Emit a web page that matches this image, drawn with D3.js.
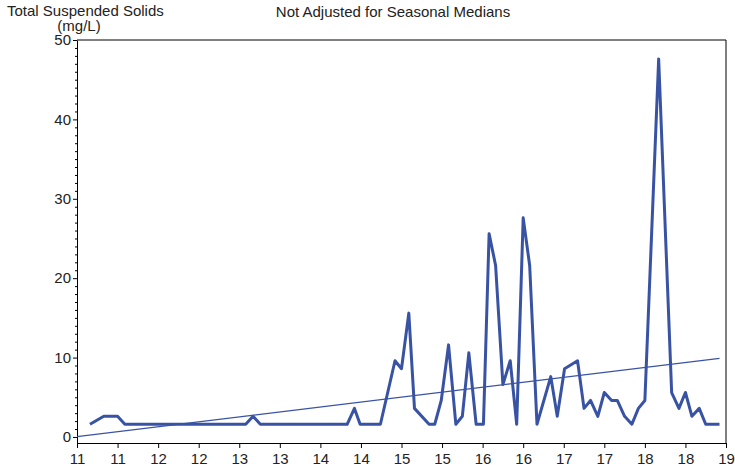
<!DOCTYPE html>
<html>
<head>
<meta charset="utf-8">
<script src="https://cdn.jsdelivr.net/npm/d3@7"></script>
<style>
  html, body { margin: 0; padding: 0; background: #fff; }
  svg { display: block; font-family: "Liberation Sans", Arial, sans-serif; }
</style>
</head>
<body>
<div id="vis"></div>
<script>
// ── DATA ───────────────────────────────────────────────────────────────────────
// sample dates as decimal years, TSS in mg/L
const sampleYears = [
  2011.16, 2011.33, 2011.50, 2011.59, 2013.08, 2013.17, 2013.26, 2014.33,
  2014.42, 2014.49, 2014.74, 2014.92, 2015.00, 2015.09, 2015.16, 2015.34,
  2015.41, 2015.49, 2015.58, 2015.67, 2015.75, 2015.83, 2015.92, 2016.01,
  2016.08, 2016.16, 2016.25, 2016.34, 2016.42, 2016.50, 2016.58, 2016.67,
  2016.84, 2016.92, 2017.01, 2017.17, 2017.25, 2017.33, 2017.42, 2017.50,
  2017.59, 2017.66, 2017.75, 2017.84, 2017.92, 2018.00, 2018.17, 2018.33,
  2018.42, 2018.50, 2018.58, 2018.67, 2018.75, 2018.92
];
const tssValues = [
  1.6, 2.6, 2.6, 1.6, 1.6, 2.6, 1.6, 1.6,
  3.6, 1.6, 1.6, 9.6, 8.6, 15.6, 3.6, 1.6,
  1.6, 4.6, 11.6, 1.6, 2.6, 10.6, 1.6, 1.6,
  25.6, 21.6, 6.6, 9.6, 1.6, 27.6, 21.6, 1.6,
  7.6, 2.6, 8.6, 9.6, 3.6, 4.6, 2.6, 5.6,
  4.6, 4.6, 2.6, 1.6, 3.6, 4.6, 47.6, 5.6,
  3.6, 5.6, 2.6, 3.6, 1.6, 1.6
];

// fitted trend line end points
const trendYears  = [2011.0, 2018.92];
const trendValues = [0.05, 9.9];

const xTickValues = d3.range(2011, 2019.01, 0.5);
const yTickValues = [0, 10, 20, 30, 40, 50];
const yMinorTicks = d3.range(0, 51, 1);

const yLabelLines  = ["Total Suspended Solids", "(mg/L)"];
const titleLines   = ["Not Adjusted for Seasonal Medians"];

// ── CONFIG ─────────────────────────────────────────────────────────────────────
const width        = 735;
const height       = 470;
const plotLeft     = 77;
const plotRight    = 726;
const plotTop      = 40;
const plotBottom   = 443;
const lineColor    = "#3953a4";
const fontSize     = 15;

const svg = d3.select("#vis").append("svg")
    .attr("width", width)
    .attr("height", height);

const x = d3.scaleLinear([2011, 2019], [plotLeft, plotRight]);
const y = d3.scaleLinear([-0.76, 50], [plotBottom, plotTop]);

// frame: top and right edges
svg.append("path")
    .attr("d", `M${plotLeft},${plotTop}H${plotRight}V${plotBottom}`)
    .attr("fill", "none")
    .attr("stroke", "#000")
    .attr("stroke-width", 1);

// ── AXES ───────────────────────────────────────────────────────────────────────
const xAxis = svg.append("g")
    .attr("transform", `translate(0,${plotBottom})`)
    .call(d3.axisBottom(x)
      .tickValues(xTickValues)
      .tickSize(5)
      .tickSizeOuter(0)
      .tickPadding(5)
      .tickFormat(d => String(Math.floor(d + 1e-6) % 100)));

const yMinor = svg.append("g")
    .attr("transform", `translate(${plotLeft},0)`)
    .call(d3.axisLeft(y)
      .tickValues(yMinorTicks.filter(d => d % 10 !== 0))
      .tickSize(2)
      .tickFormat(""));
yMinor.select(".domain").remove();

const yAxis = svg.append("g")
    .attr("transform", `translate(${plotLeft},0)`)
    .call(d3.axisLeft(y)
      .tickValues(yTickValues)
      .tickSize(4)
      .tickSizeOuter(0)
      .tickPadding(2));

[xAxis, yAxis].forEach(g => {
  g.selectAll("text")
    .attr("fill", "#222")
    .style("font-size", fontSize + "px")
    .style("font-family", "'Liberation Sans', Arial, sans-serif");
});
svg.selectAll(".domain, .tick line").attr("stroke", "#000");

// ── MARKS ──────────────────────────────────────────────────────────────────────
const series = sampleYears.map((t, i) => [t, tssValues[i]]);
const trend  = trendYears.map((t, i) => [t, trendValues[i]]);

const line = d3.line()
    .x(d => x(d[0]))
    .y(d => y(d[1]));

svg.append("path")
    .datum(trend)
    .attr("d", line)
    .attr("fill", "none")
    .attr("stroke", lineColor)
    .attr("stroke-width", 1.2);

svg.append("path")
    .datum(series)
    .attr("d", line)
    .attr("fill", "none")
    .attr("stroke", lineColor)
    .attr("stroke-width", 3)
    .attr("stroke-linejoin", "round");

// ── TEXT ───────────────────────────────────────────────────────────────────────
svg.append("text")
    .attr("x", 7)
    .attr("y", 16)
    .attr("fill", "#222")
    .style("font-size", fontSize + "px")
    .text(yLabelLines[0]);

svg.append("text")
    .attr("x", 79)
    .attr("y", 31)
    .attr("text-anchor", "middle")
    .attr("fill", "#222")
    .style("font-size", fontSize + "px")
    .text(yLabelLines[1]);

svg.append("text")
    .attr("x", 393)
    .attr("y", 17)
    .attr("text-anchor", "middle")
    .attr("fill", "#222")
    .style("font-size", fontSize + "px")
    .text(titleLines[0]);
</script>
</body>
</html>
